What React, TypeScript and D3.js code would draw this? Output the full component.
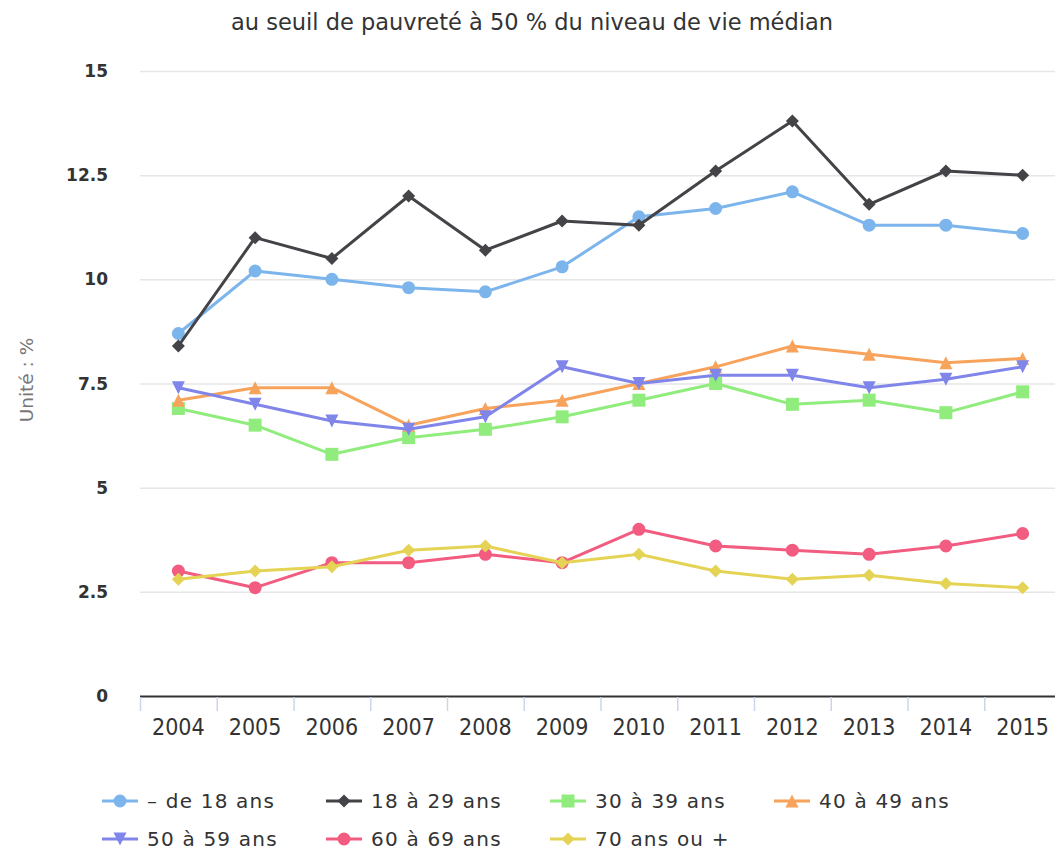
import React, {useEffect, useRef} from 'react';
import * as d3 from 'd3';

const years = ['2004', '2005', '2006', '2007', '2008', '2009', '2010', '2011', '2012', '2013', '2014', '2015'];

const moins18 = [8.7, 10.2, 10.0, 9.8, 9.7, 10.3, 11.5, 11.7, 12.1, 11.3, 11.3, 11.1];
const de18a29 = [8.4, 11.0, 10.5, 12.0, 10.7, 11.4, 11.3, 12.6, 13.8, 11.8, 12.6, 12.5];
const de30a39 = [6.9, 6.5, 5.8, 6.2, 6.4, 6.7, 7.1, 7.5, 7.0, 7.1, 6.8, 7.3];
const de40a49 = [7.1, 7.4, 7.4, 6.5, 6.9, 7.1, 7.5, 7.9, 8.4, 8.2, 8.0, 8.1];
const de50a59 = [7.4, 7.0, 6.6, 6.4, 6.7, 7.9, 7.5, 7.7, 7.7, 7.4, 7.6, 7.9];
const de60a69 = [3.0, 2.6, 3.2, 3.2, 3.4, 3.2, 4.0, 3.6, 3.5, 3.4, 3.6, 3.9];
const plus70 = [2.8, 3.0, 3.1, 3.5, 3.6, 3.2, 3.4, 3.0, 2.8, 2.9, 2.7, 2.6];

const seriesNames = ['– de 18 ans', '18 à 29 ans', '30 à 39 ans', '40 à 49 ans', '50 à 59 ans', '60 à 69 ans', '70 ans ou +'];
const seriesValues = [moins18, de18a29, de30a39, de40a49, de50a59, de60a69, plus70];
const colors = ['#7cb5ec', '#434348', '#90ed7d', '#f7a35c', '#8085e9', '#f15c80', '#e4d354'];
const symbols = ['circle', 'diamond', 'square', 'triangle', 'triangle-down', 'circle', 'diamond'];

const yTicks = [0, 2.5, 5, 7.5, 10, 12.5, 15];

const title = 'au seuil de pauvreté à 50 % du niveau de vie médian';
const yTitle = 'Unité : %';

// marker path centred on (x, y)
const markerPath = (type: string, x: number, y: number, r: number) => {
  const p = d3.path();
  if (type === 'circle') {
    p.arc(x, y, r, 0, Math.PI * 2);
  } else if (type === 'diamond') {
    p.moveTo(x, y - r); p.lineTo(x + r, y); p.lineTo(x, y + r); p.lineTo(x - r, y);
  } else if (type === 'square') {
    p.rect(x - r, y - r, r * 2, r * 2);
  } else if (type === 'triangle') {
    p.moveTo(x, y - r); p.lineTo(x + r, y + r); p.lineTo(x - r, y + r);
  } else {
    p.moveTo(x - r, y - r); p.lineTo(x + r, y - r); p.lineTo(x, y + r);
  }
  p.closePath();
  return p.toString();
};

export default function App() {
  const ref = useRef<SVGSVGElement>(null);

  useEffect(() => {
    const svg = d3.select(ref.current);
    svg.selectAll('*').remove();

    const W = 1055, H = 854;
    const left = 140, right = 1061, top = 71, bottom = 696;

    const x = d3.scaleBand().domain(years).range([left, right]);
    const y = d3.scaleLinear().domain([0, 15]).range([bottom, top]);
    const cx = (i: number) => x(years[i])! + x.bandwidth() / 2;

    svg.append('rect').attr('width', W).attr('height', H).attr('fill', '#fff');

    svg.append('text')
        .attr('x', 532)
        .attr('y', 30)
        .attr('text-anchor', 'middle')
        .style('font-family', 'DejaVu Sans')
        .style('font-size', '22.5px')
        .style('fill', '#333')
        .text(title);

    // grid
    svg.append('g').selectAll('line')
        .data(yTicks.filter(d => d > 0))
        .enter().append('line')
        .attr('x1', left).attr('x2', W)
        .attr('y1', d => y(d) + 0.5).attr('y2', d => y(d) + 0.5)
        .attr('stroke', '#e6e6e6').attr('stroke-width', 1.5);

    // y labels
    svg.append('g').selectAll('text')
        .data(yTicks)
        .enter().append('text')
        .attr('x', 108)
        .attr('y', d => y(d) + 6)
        .attr('text-anchor', 'end')
        .style('font-family', 'DejaVu Sans')
        .style('font-weight', 'bold')
        .style('font-size', '17px')
        .style('fill', '#333')
        .text(d => String(d));

    svg.append('text')
        .attr('transform', `translate(33,380) rotate(-90)`)
        .attr('text-anchor', 'middle')
        .style('font-family', 'DejaVu Sans')
        .style('font-size', '18.5px')
        .style('fill', '#777')
        .text(yTitle);

    // x axis
    const xa = svg.append('g');
    xa.append('line')
        .attr('x1', left).attr('x2', W)
        .attr('y1', bottom + 0.5).attr('y2', bottom + 0.5)
        .attr('stroke', '#333').attr('stroke-width', 2);
    xa.selectAll('.tick')
        .data(years)
        .enter().append('line')
        .attr('x1', d => x(d)! + 0.5).attr('x2', d => x(d)! + 0.5)
        .attr('y1', bottom + 1).attr('y2', bottom + 15)
        .attr('stroke', '#ccd6eb').attr('stroke-width', 1.5);
    xa.selectAll('.lbl')
        .data(years)
        .enter().append('text')
        .attr('x', d => x(d)! + x.bandwidth() / 2)
        .attr('y', 735)
        .attr('text-anchor', 'middle')
        .style('font-family', 'DejaVu Sans Condensed')
        .style('font-size', '23px')
        .style('fill', '#333')
        .text(d => d);

    const line = d3.line<number>()
        .x((d, i) => cx(i))
        .y(d => y(d));

    seriesValues.forEach((vals, si) => {
      const g = svg.append('g');
      g.append('path')
          .attr('d', line(vals)!)
          .attr('fill', 'none')
          .attr('stroke', colors[si])
          .attr('stroke-width', 3)
          .attr('stroke-linejoin', 'round');
      g.selectAll('path.m')
          .data(vals)
          .enter().append('path')
          .attr('class', 'm')
          .attr('d', (d, i) => markerPath(symbols[si], cx(i), y(d), 6.5))
          .attr('fill', colors[si]);
    });

    // legend
    const itemW = 224;
    seriesNames.forEach((name, i) => {
      const lx = 102 + (i % 4) * itemW;
      const ly = 801 + Math.floor(i / 4) * 38;
      const g = svg.append('g');
      g.append('line')
          .attr('x1', lx).attr('x2', lx + 36)
          .attr('y1', ly).attr('y2', ly)
          .attr('stroke', colors[i]).attr('stroke-width', 3);
      g.append('path')
          .attr('d', markerPath(symbols[i], lx + 18, ly, 6.5))
          .attr('fill', colors[i]);
      g.append('text')
          .attr('x', lx + 45)
          .attr('y', ly + 7)
          .style('font-family', 'DejaVu Sans')
          .style('font-size', '20px')
          .style('letter-spacing', '1.2px')
          .style('fill', '#333')
          .text(name);
    });
  }, []);

  return <svg ref={ref} width={1055} height={854} style={{position: 'absolute', left: 0, top: 0}}></svg>;
}
